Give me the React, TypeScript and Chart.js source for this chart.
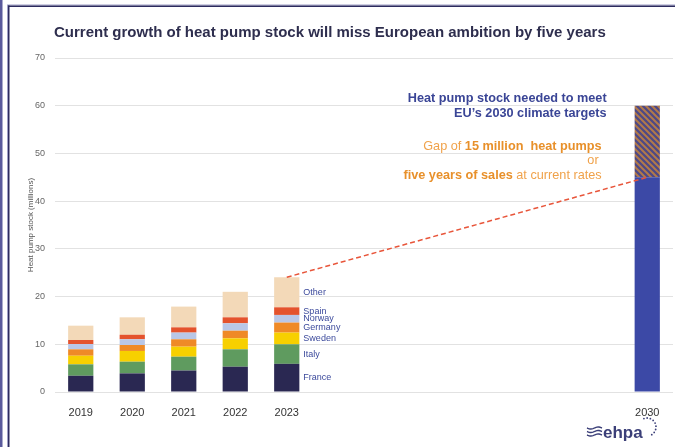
import React, { useEffect, useRef } from 'react';
import { Chart, registerables } from 'chart.js';

Chart.register(...registerables);

const FONT = "'Liberation Sans', Arial, Helvetica, sans-serif";

const categories = ['2019', '2020', '2021', '2022', '2023', '2024', '2025', '2026', '2027', '2028', '2029', '2030'];
const shownTickLabels = ['2019', '2020', '2021', '2022', '2023', '', '', '', '', '', '', '2030'];

const seriesNames = ['France', 'Italy', 'Sweden', 'Germany', 'Norway', 'Spain', 'Other'];
const france = [3.4, 3.9, 4.5, 5.3, 5.9];
const italy = [2.4, 2.45, 2.9, 3.65, 4.1];
const sweden = [1.8, 2.25, 2.1, 2.3, 2.45];
const germany = [1.35, 1.25, 1.55, 1.6, 2.1];
const norway = [1.1, 1.2, 1.4, 1.55, 1.6];
const spain = [0.85, 0.95, 1.1, 1.25, 1.6];
const other = [3.0, 3.65, 4.35, 5.35, 6.3];
const seriesColors = ['#2a2852', '#5f9b5f', '#f7d000', '#ef8a27', '#b9c7e7', '#e4532d', '#f3d9b8'];

const target2030Year = '2030';
const currentPath2030 = [45];
const gap2030 = [15];

const yMax = 70;
const yStep = 10;

const title = 'Current growth of heat pump stock will miss European ambition by five years';
const yTitle = 'Heat pump stock (millions)';

export default function App() {
  const ref = useRef<HTMLCanvasElement>(null);

  useEffect(() => {
    const canvas = ref.current!;
    const ctx0 = canvas.getContext('2d')!;

    const pc = document.createElement('canvas');
    pc.width = 6;
    pc.height = 6;
    const p = pc.getContext('2d')!;
    p.fillStyle = '#4d4886';
    p.fillRect(0, 0, 6, 6);
    p.strokeStyle = '#b27a4a';
    p.lineWidth = 2;
    p.beginPath();
    p.moveTo(-3, -3); p.lineTo(9, 9);
    p.moveTo(-3, 3); p.lineTo(3, 9);
    p.moveTo(3, -3); p.lineTo(9, 3);
    p.stroke();
    const hatch = ctx0.createPattern(pc, 'repeat')!;

    const histSeries = [france, italy, sweden, germany, norway, spain, other];
    const pad = (arr: number[]) => categories.map((_, i) => (i < arr.length ? arr[i] : null));
    const at2030 = (v: number) => categories.map((c) => (c === target2030Year ? v : null));
    const lastIdx = france.length - 1;
    const lastTotal = histSeries.reduce((s, a) => s + a[lastIdx], 0);
    const idx2030 = categories.indexOf(target2030Year);
    const lineData = categories.map((c, i) => (i === lastIdx ? lastTotal : i === idx2030 ? currentPath2030[0] : null));

    const datasets: any[] = histSeries.map((arr, i) => ({
      type: 'bar',
      label: seriesNames[i],
      data: pad(arr),
      backgroundColor: seriesColors[i],
      stack: 's',
      order: 1,
      barPercentage: 0.49,
      categoryPercentage: 1,
    }));
    datasets.push({
      type: 'bar', label: 'Current path 2030', data: at2030(currentPath2030[0]),
      backgroundColor: '#3c49a6', stack: 's', order: 1, barPercentage: 0.49, categoryPercentage: 1,
    });
    datasets.push({
      type: 'bar', label: 'Gap', data: at2030(gap2030[0]),
      backgroundColor: hatch, stack: 's', order: 1, barPercentage: 0.49, categoryPercentage: 1,
    });
    datasets.push({
      type: 'line', label: 'trend', data: lineData, stack: 'line', order: 0,
      borderColor: '#e8553a', borderWidth: 1.5, borderDash: [5, 3], pointRadius: 0, spanGaps: true, fill: false,
    });

    const deco = {
      id: 'deco',
      afterDraw(chart: any) {
        const ctx = chart.ctx as CanvasRenderingContext2D;
        const ca = chart.chartArea;
        const ys = chart.scales.y;
        ctx.save();
        // frame
        ctx.fillStyle = '#5a5a9c';
        ctx.fillRect(0, 0, 2.5, 447);
        ctx.fillStyle = '#a0a0c8';
        ctx.fillRect(7, 4.5, 668, 1);
        ctx.fillRect(7, 5, 1, 442);
        ctx.fillStyle = '#2d2b5e';
        ctx.fillRect(8, 5.5, 667, 1.5);
        ctx.fillRect(8, 5.5, 1.5, 442);

        // title
        ctx.fillStyle = '#2e2e4e';
        ctx.font = `bold 15px ${FONT}`;
        ctx.textAlign = 'left';
        ctx.textBaseline = 'middle';
        ctx.fillText(title, 54, 33);

        // y title
        ctx.save();
        ctx.translate(31, (ca.top + ca.bottom) / 2);
        ctx.rotate(-Math.PI / 2);
        ctx.font = `8px ${FONT}`;
        ctx.fillStyle = '#555';
        ctx.textAlign = 'center';
        ctx.fillText(yTitle, 0, 0);
        ctx.restore();

        // series labels next to last bar
        ctx.font = `9px ${FONT}`;
        ctx.fillStyle = '#3c4a9c';
        ctx.textAlign = 'left';
        ctx.textBaseline = 'middle';
        histSeries.forEach((_, i) => {
          const el = chart.getDatasetMeta(i).data[lastIdx];
          if (!el) return;
          ctx.fillText(seriesNames[i], el.x + el.width / 2 + 4, (el.y + el.base) / 2);
        });

        // annotations near 2030 bar
        const bar = chart.getDatasetMeta(histSeries.length).data[idx2030];
        const leftEdge = bar.x - bar.width / 2;
        const yTop = ys.getPixelForValue(currentPath2030[0] + gap2030[0]);
        const fs = 12.7;
        const rich = (parts: [string, boolean, string][], right: number, y: number) => {
          let w = 0;
          parts.forEach(([t, b]) => { ctx.font = `${b ? 'bold ' : ''}${fs}px ${FONT}`; w += ctx.measureText(t).width; });
          let x = right - w;
          parts.forEach(([t, b, c]) => {
            ctx.font = `${b ? 'bold ' : ''}${fs}px ${FONT}`;
            ctx.fillStyle = c;
            ctx.fillText(t, x, y);
            x += ctx.measureText(t).width;
          });
        };
        const navy = '#3a4596';
        const orB = '#e8902a';
        const orN = '#f0a24a';
        rich([['Heat pump stock needed to meet', true, navy]], leftEdge - 28, yTop - 7);
        rich([['EU\u2019s 2030 climate targets', true, navy]], leftEdge - 28, yTop + 8);
        rich([['Gap of ', false, orN], ['15 million  heat pumps', true, orB]], leftEdge - 33, yTop + 41);
        rich([['or', false, orN]], leftEdge - 36, yTop + 55);
        rich([['five years of sales', true, orB], [' at current rates', false, orN]], leftEdge - 33, yTop + 70);

        // logo
        ctx.strokeStyle = '#3b3f78';
        ctx.lineWidth = 1.4;
        for (let k = 0; k < 3; k++) {
          ctx.beginPath();
          const yy = 428 + k * 3.5;
          for (let x = 587; x <= 602; x += 1) {
            const y = yy + Math.sin((x - 587) / 15 * Math.PI * 2) * 1.0;
            if (x === 587) ctx.moveTo(x, y); else ctx.lineTo(x, y);
          }
          ctx.stroke();
        }
        ctx.fillStyle = '#3b3f78';
        ctx.font = `bold 17px ${FONT}`;
        ctx.textAlign = 'left';
        ctx.textBaseline = 'alphabetic';
        ctx.fillText('ehpa', 603, 438);
        const cx = 647, cy = 427, r = 9;
        for (let a = -110; a <= 60; a += 21) {
          const rad = (a * Math.PI) / 180;
          ctx.beginPath();
          ctx.arc(cx + r * Math.cos(rad), cy + r * Math.sin(rad), 0.9, 0, Math.PI * 2);
          ctx.fill();
        }
        ctx.restore();
      },
    };

    const chart = new Chart(canvas, {
      type: 'bar',
      data: { labels: categories, datasets },
      options: {
        responsive: false,
        animation: false,
        layout: { padding: { top: 58, right: 2, left: 0, bottom: 0 } },
        plugins: { legend: { display: false }, tooltip: { enabled: false }, title: { display: false } },
        scales: {
          x: {
            stacked: true,
            grid: { display: false },
            border: { display: false },
            ticks: {
              autoSkip: false, maxRotation: 0, padding: 6,
              color: '#333', font: { family: FONT, size: 11 },
              callback: (_v: any, i: number) => shownTickLabels[i],
            },
            afterFit: (s: any) => { s.height = 55; },
          },
          y: {
            stacked: true,
            min: 0, max: yMax,
            grid: { color: '#e2e2e2', drawTicks: false, lineWidth: 1 },
            border: { display: false },
            ticks: { stepSize: yStep, padding: 10, color: '#666', font: { family: FONT, size: 9 } },
            afterFit: (s: any) => { s.width = 55; },
          },
        },
      },
      plugins: [deco],
    } as any);

    return () => chart.destroy();
  }, []);

  return (
    <div style={{ position: 'fixed', left: 0, top: 0, width: 675, height: 447, background: '#fff' }}>
      <canvas ref={ref} width={675} height={447} style={{ display: 'block' }} />
    </div>
  );
}
